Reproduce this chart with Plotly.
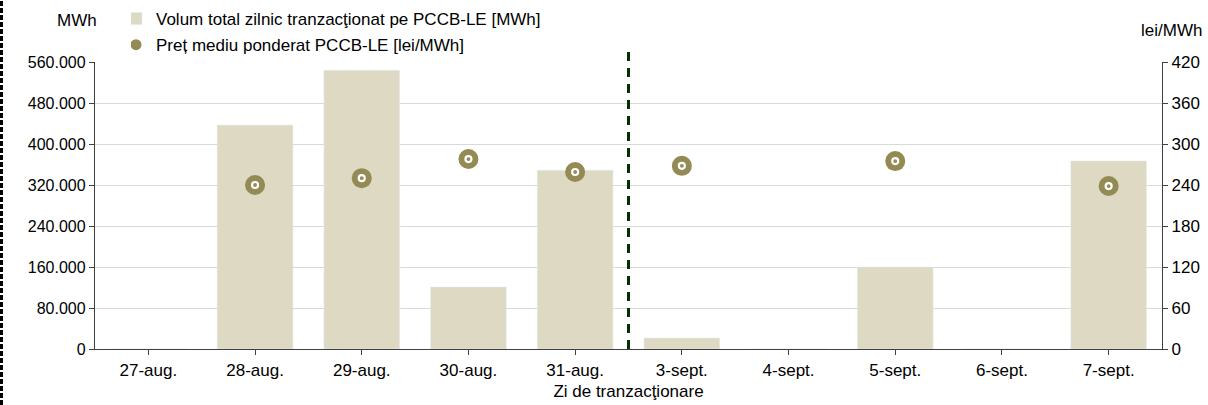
import plotly.graph_objects as go

categories = ["27-aug.", "28-aug.", "29-aug.", "30-aug.", "31-aug.",
              "3-sept.", "4-sept.", "5-sept.", "6-sept.", "7-sept."]
volume_mwh = [0, 437000, 544000, 121000, 349000, 21500, 0, 160000, 0, 367000]
price_lei = [None, 240, 250, 278, 259, 268, None, 275, None, 238.5]

bar_name = "Volum total zilnic tranzacţionat pe PCCB-LE [MWh]"
price_name = "Preț mediu ponderat PCCB-LE [lei/MWh]"

BAR_COLOR = "#DDD9C3"
OLIVE = "#948A54"
FONT = "Liberation Sans, Arial, sans-serif"

ML, MR, MT, MB = 95, 46, 62, 56
W, H = 1208, 405
PW = W - ML - MR
PH = H - MT - MB

fig = go.Figure()
fig.add_trace(go.Bar(
    x=categories, y=volume_mwh, name=bar_name, marker_color=BAR_COLOR,
    legendgroup="a", hoverinfo="x+y"))
fig.add_trace(go.Scatter(
    x=categories, y=price_lei, name=price_name, mode="markers", yaxis="y2",
    marker=dict(symbol="circle", size=20, color=OLIVE), showlegend=False))
fig.add_trace(go.Scatter(
    x=categories, y=price_lei, mode="markers", yaxis="y2", showlegend=False,
    marker=dict(symbol="circle", size=6, color=OLIVE,
                line=dict(color="white", width=2.2)), hoverinfo="skip"))
# legend entry for the price series
fig.add_trace(go.Scatter(
    x=[None], y=[None], name=price_name, mode="markers", yaxis="y2",
    marker=dict(symbol="circle", size=11, color=OLIVE), legendgroup="b"))

fig.update_layout(
    width=W, height=H,
    margin=dict(l=ML, r=MR, t=MT, b=MB, autoexpand=False),
    paper_bgcolor="white", plot_bgcolor="white",
    separators=",.",
    font=dict(family=FONT, size=17, color="#000000"),
    bargap=0.29,
    showlegend=True,
    legend=dict(x=(131 - ML) / PW, y=(H - MB - 1) / PH, xanchor="left", yanchor="top",
                bgcolor="rgba(0,0,0,0)", font=dict(size=17, family=FONT),
                traceorder="grouped", tracegroupgap=1, itemwidth=30,
                indentation=-15),
    xaxis=dict(
        type="category", showline=True, linecolor="#404040", linewidth=1.3,
        ticks="outside", ticklen=5, tickcolor="#404040",
        tickfont=dict(size=17),
        title=dict(text="Zi de tranzacţionare", font=dict(size=17), standoff=6),
        showgrid=False, range=[-0.5, 9.5]),
    yaxis=dict(
        range=[0, 560000], tickvals=[0, 80000, 160000, 240000, 320000, 400000, 480000, 560000],
        tickformat=",d", showline=True, linecolor="#404040", linewidth=1.3,
        ticks="outside", ticklen=5, tickcolor="#404040", tickfont=dict(size=16),
        showgrid=True, gridcolor="#D9D9D9", gridwidth=1.3, zeroline=False),
    yaxis2=dict(
        range=[0, 420], tickvals=[0, 60, 120, 180, 240, 300, 360, 420],
        overlaying="y", side="right", showline=True, linecolor="#404040", linewidth=1.3,
        ticks="outside", ticklen=5, tickcolor="#404040", tickfont=dict(size=17),
        showgrid=False, zeroline=False),
    annotations=[
        dict(text="MWh", xref="paper", yref="paper", x=(77 - ML) / PW, y=(H - MB - 20) / PH,
             showarrow=False, xanchor="center", yanchor="middle", font=dict(size=17)),
        dict(text="lei/MWh", xref="paper", yref="paper", x=(1171 - ML) / PW, y=(H - MB - 30) / PH,
             showarrow=False, xanchor="center", yanchor="middle", font=dict(size=17)),
    ],
    shapes=[
        dict(type="line", xref="x", yref="paper", x0=4.5, x1=4.5, y0=0, y1=(H - MB - 45) / PH,
             line=dict(color="#003300", width=3, dash="9px,7px")),
        dict(type="line", xref="paper", yref="paper", x0=(1.5 - ML) / PW, x1=(1.5 - ML) / PW,
             y0=-MB / PH, y1=(H - MB) / PH, line=dict(color="black", width=3, dash="5px,2px")),
    ],
)

fig.write_html("out.html", config={"displayModeBar": False},
               post_script="document.body.style.margin='0';document.body.style.overflow='hidden';")
